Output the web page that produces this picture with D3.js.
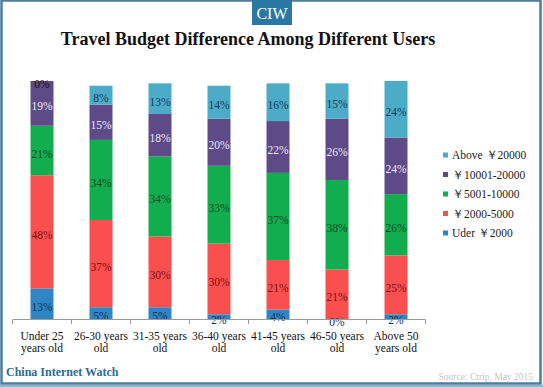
<!DOCTYPE html>
<html>
<head>
<meta charset="utf-8">
<script src="https://cdn.jsdelivr.net/npm/d3@7"></script>
<style>
  body { margin: 0; background: #fff; }
  svg text { font-family: "Liberation Serif", "Times New Roman", serif; }
</style>
</head>
<body>
<svg id="chart" width="543" height="387"></svg>
<script>
// age groups, each label split over two lines
var categories = [
  ["Under 25", "years old"],
  ["26-30 years", "old"],
  ["31-35 years", "old"],
  ["36-40 years", "old"],
  ["41-45 years", "old"],
  ["46-50 years", "old"],
  ["Above 50", "years old"]
];

// series, stacked bottom -> top (percent)
var under2000   = [13, 5, 5, 2, 4, 0, 2];
var b2000_5000  = [48, 37, 30, 30, 21, 21, 25];
var b5001_10000 = [21, 34, 34, 33, 37, 38, 26];
var b10001_20000 = [19, 15, 18, 20, 22, 26, 24];
var above20000  = [0, 8, 13, 14, 16, 15, 24];

var seriesNames = ["Uder \uFFE52000", "\uFFE52000-5000", "\uFFE55001-10000", "\uFFE510001-20000", "Above \uFFE520000"];
var seriesValues = [under2000, b2000_5000, b5001_10000, b10001_20000, above20000];
var seriesColors = ["#2f86c4", "#fa4f4f", "#12ad4f", "#5f4a88", "#4cabc6"];
var labelColors  = ["#12305a", "#7a1212", "#0b4a20", "#ece6f4", "#133a5e"];

var svg = d3.select("#chart");

// frame
svg.append("rect")
	.attr("x", 1.5).attr("y", 0.5)
	.attr("width", 539).attr("height", 383)
	.attr("fill", "none")
	.attr("stroke", "#4b7d9e")
	.attr("stroke-width", 2.5);
svg.append("line")
	.attr("x1", 0).attr("x2", 543)
	.attr("y1", 386).attr("y2", 386)
	.attr("stroke", "#8fb4cc")
	.attr("stroke-width", 2);

// CIW badge
svg.append("rect")
	.attr("x", 252).attr("y", 0)
	.attr("width", 40).attr("height", 25)
	.attr("fill", "#2b77a3");
svg.append("text")
	.attr("x", 272).attr("y", 19)
	.attr("text-anchor", "middle")
	.attr("fill", "#fff")
	.style("font-size", "16px")
	.text("CIW");

svg.append("text")
	.attr("x", 248).attr("y", 45)
	.attr("text-anchor", "middle")
	.attr("fill", "#111")
	.style("font-size", "18px")
	.style("font-weight", "bold")
	.text("Travel Budget Difference Among Different Users");

// scales
var x = d3.scaleBand()
	.domain(d3.range(categories.length))
	.range([12.5, 425.5]);
var barW = 23;
var y = d3.scaleLinear()
	.domain([0, 101])
	.range([319, 81]);

// stack
var rows = categories.map(function(c, i) {
	var r = {i: i};
	seriesValues.forEach(function(s, k) { r["s" + k] = s[i]; });
	return r;
});
var stack = d3.stack().keys(seriesValues.map(function(s, k) { return "s" + k; }));
var layers = stack(rows);

var g = svg.append("g");
layers.forEach(function(layer, k) {
	g.selectAll(".seg" + k)
		.data(layer)
		.enter()
		.append("rect")
		.attr("x", function(d, i) { return x(i) + (x.bandwidth() - barW) / 2; })
		.attr("y", function(d) { return y(d[1]); })
		.attr("width", barW)
		.attr("height", function(d) { return y(d[0]) - y(d[1]); })
		.attr("fill", seriesColors[k]);
});
layers.forEach(function(layer, k) {
	g.selectAll(".lab" + k)
		.data(layer)
		.enter()
		.append("text")
		.attr("x", function(d, i) { return x(i) + x.bandwidth() / 2; })
		.attr("y", function(d) { return (y(d[0]) + y(d[1])) / 2 + 3; })
		.attr("dy", "0.35em")
		.attr("text-anchor", "middle")
		.attr("fill", function(d) { return (d[1] - d[0]) === 0 && k === 4 ? "#111" : labelColors[k]; })
		.style("font-size", "11.5px")
		.text(function(d, i) { return seriesValues[k][i] + "%"; });
});

// axis
svg.append("line")
	.attr("x1", 12.5).attr("x2", 425.5)
	.attr("y1", 319.5).attr("y2", 319.5)
	.attr("stroke", "#9a9a9a");
svg.selectAll(".tick")
	.data(d3.range(categories.length + 1))
	.enter()
	.append("line")
	.attr("x1", function(d) { return 12.5 + d * x.step(); })
	.attr("x2", function(d) { return 12.5 + d * x.step(); })
	.attr("y1", 319.5).attr("y2", 324)
	.attr("stroke", "#9a9a9a");

var catText = svg.selectAll(".cat")
	.data(categories)
	.enter()
	.append("text")
	.attr("text-anchor", "middle")
	.attr("fill", "#111")
	.style("font-size", "11.5px");
catText.each(function(c, i) {
	var t = d3.select(this);
	c.forEach(function(line, j) {
		t.append("tspan")
			.attr("x", x(i) + x.bandwidth() / 2)
			.attr("y", 340 + j * 12)
			.text(line);
	});
});

// legend, top row = top of stack
var legend = svg.append("g").attr("transform", "translate(443,155)");
d3.range(seriesNames.length).reverse().forEach(function(k, r) {
	var row = legend.append("g").attr("transform", "translate(0," + (r * 19.5) + ")");
	row.append("rect")
		.attr("x", 0).attr("y", -2.5)
		.attr("width", 5).attr("height", 5)
		.attr("fill", seriesColors[k]);
	row.append("text")
		.attr("x", 9).attr("y", 0)
		.attr("dy", "0.35em")
		.attr("fill", "#222")
		.style("font-size", "11.5px")
		.text(seriesNames[k]);
});

// footer
svg.append("text")
	.attr("x", 6).attr("y", 376)
	.attr("fill", "#2e6c94")
	.style("font-size", "12px")
	.style("font-weight", "bold")
	.text("China Internet Watch");
svg.append("text")
	.attr("x", 533).attr("y", 380)
	.attr("text-anchor", "end")
	.attr("fill", "#c4c4c4")
	.style("font-size", "9.5px")
	.text("Source: Ctrip, May 2015");
</script>
</body>
</html>
